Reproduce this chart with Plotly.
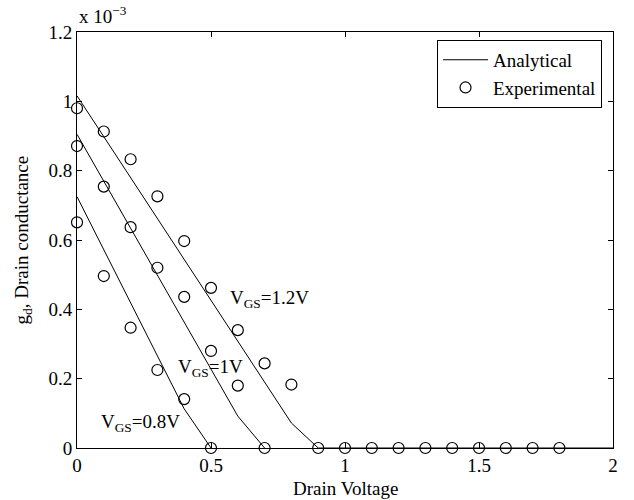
import plotly.graph_objects as go

# Drain voltage sample points (V)
vd_exp = [0.0, 0.1, 0.2, 0.3, 0.4, 0.5, 0.6, 0.7, 0.8, 0.9,
          1.0, 1.1, 1.2, 1.3, 1.4, 1.5, 1.6, 1.7, 1.8]

# Measured drain conductance, in units of 1e-3 S
exp_12 = [0.98, 0.913, 0.833, 0.726, 0.597, 0.462, 0.340, 0.244, 0.183, 0.0,
          0.0, 0.0, 0.0, 0.0, 0.0, 0.0, 0.0, 0.0, 0.0]
exp_10 = [0.871, 0.754, 0.637, 0.520, 0.436, 0.280, 0.180, 0.0]
exp_08 = [0.651, 0.496, 0.347, 0.225, 0.141, 0.0]

# Analytical model, in units of 1e-3 S
vd_ana = [0.0, 0.1, 0.2, 0.3, 0.4, 0.5, 0.6, 0.7, 0.8, 0.9, 1.0,
          1.1, 1.2, 1.3, 1.4, 1.5, 1.6, 1.7, 1.8, 1.9, 2.0]
ana_12 = [1.016, 0.898, 0.780, 0.662, 0.544, 0.426, 0.308, 0.190, 0.072, 0.0, 0.0,
          0.0, 0.0, 0.0, 0.0, 0.0, 0.0, 0.0, 0.0, 0.0, 0.0]
ana_10 = [0.905, 0.770, 0.635, 0.500, 0.365, 0.230, 0.092, 0.0]
ana_08 = [0.725, 0.572, 0.419, 0.266, 0.113, 0.0]

curve_labels = ["V<sub>GS</sub>=1.2V", "V<sub>GS</sub>=1V", "V<sub>GS</sub>=0.8V"]
label_x = [0.563, 0.368, 0.083]
label_y = [0.43, 0.23, 0.072]

x_ticks = [0, 0.5, 1, 1.5, 2]
x_tick_text = ["0", "0.5", "1", "1.5", "2"]
y_ticks = [0, 0.2, 0.4, 0.6, 0.8, 1.0, 1.2]
y_tick_text = ["0", "0.2", "0.4", "0.6", "0.8", "1", "1.2"]

FONT = "Liberation Serif, Times New Roman, serif"
FS = 19

fig = go.Figure()

ana_sets = [ana_12, ana_10, ana_08]
for i, ys in enumerate(ana_sets):
    fig.add_trace(go.Scatter(
        x=vd_ana[:len(ys)], y=ys, mode="lines",
        line=dict(color="black", width=1),
        name="Analytical", legendgroup="ana", showlegend=(i == 0),
        cliponaxis=False,
    ))

exp_sets = [exp_12, exp_10, exp_08]
for i, ys in enumerate(exp_sets):
    fig.add_trace(go.Scatter(
        x=vd_exp[:len(ys)], y=ys, mode="markers",
        marker=dict(symbol="circle-open", size=11, color="black",
                    line=dict(width=1.2, color="black")),
        name="Experimental", legendgroup="exp", showlegend=(i == 0),
        cliponaxis=False,
    ))

for txt, lx, ly in zip(curve_labels, label_x, label_y):
    fig.add_annotation(x=lx, y=ly, text=txt, showarrow=False,
                       xanchor="left", yanchor="middle",
                       font=dict(family=FONT, size=FS, color="black"))

# exponent marker for the y axis
fig.add_annotation(xref="paper", yref="paper", x=0, y=1.0, yshift=3,
                   text="x 10<sup>\u22123</sup>", showarrow=False,
                   xanchor="left", yanchor="bottom",
                   font=dict(family=FONT, size=FS, color="black"))

# axis titles as fixed-position annotations so the plot area does not move
fig.add_annotation(xref="paper", yref="paper", x=0.5, y=-0.0962,
                   text="Drain Voltage", showarrow=False,
                   xanchor="center", yanchor="middle",
                   font=dict(family=FONT, size=FS, color="black"))
fig.add_annotation(xref="paper", yref="paper", x=-0.1, y=0.5,
                   text="g<sub>d</sub>, Drain conductance", showarrow=False,
                   textangle=-90, xanchor="center", yanchor="middle",
                   font=dict(family=FONT, size=FS, color="black"))

axis_common = dict(
    showline=True, linecolor="black", linewidth=1, mirror="ticks",
    ticks="inside", ticklen=5, tickwidth=1, tickcolor="black",
    showgrid=False, zeroline=False, automargin=False,
    tickfont=dict(family=FONT, size=FS, color="black"),
)

fig.update_xaxes(range=[0, 2], tickvals=x_ticks, ticktext=x_tick_text,
                 **axis_common)
fig.update_yaxes(range=[0, 1.2], tickvals=y_ticks, ticktext=y_tick_text,
                 **axis_common)

fig.update_layout(
    width=634, height=500,
    margin=dict(l=77, r=21, t=32, b=52, autoexpand=False),
    paper_bgcolor="white", plot_bgcolor="white",
    legend=dict(x=0.9795, y=0.981, xanchor="right", yanchor="top",
                bordercolor="black", borderwidth=1, bgcolor="white",
                font=dict(family=FONT, size=FS, color="black"),
                tracegroupgap=0, itemwidth=45),
    showlegend=True,
)

fig.write_html("out.html")
